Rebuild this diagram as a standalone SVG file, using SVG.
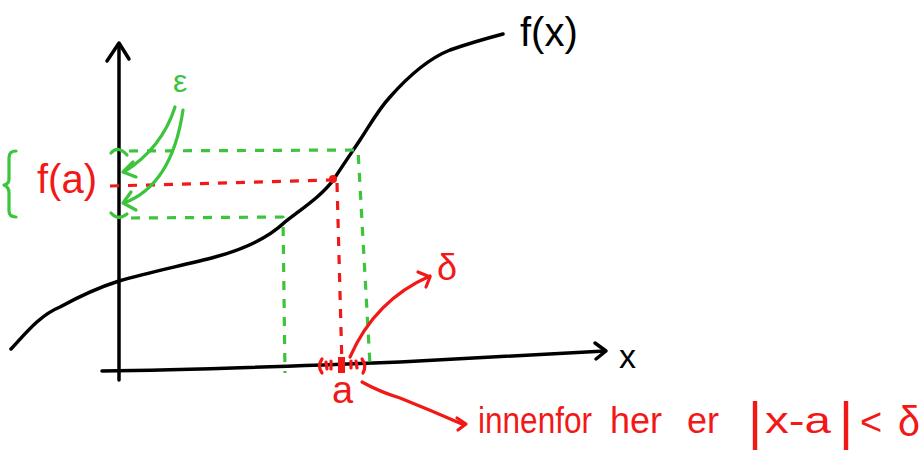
<svg xmlns="http://www.w3.org/2000/svg" width="924" height="450" viewBox="0 0 924 450">
<style>
.ink{fill:none;stroke:#000;stroke-width:3.5;stroke-linecap:round;stroke-linejoin:round}
.red{fill:none;stroke:#f21818;stroke-width:3.2;stroke-linecap:round;stroke-linejoin:round}
.grn{fill:none;stroke:#3cc43c;stroke-width:3.2;stroke-linecap:round;stroke-linejoin:round}
.dash{stroke-dasharray:9 9;stroke-linecap:butt}
.t{font-family:"Liberation Sans",Arial,sans-serif}
.tb{fill:#000}.tr{fill:#f21818}.tg{fill:#3cc43c}
</style>
<rect width="924" height="450" fill="#fff"/>
<g id="axes">
<path class="ink" d="M119,380 C120,300 118,200 119,44"/>
<path class="ink" d="M107,61 L119,43 L129,59"/>
<path class="ink" d="M102,371 C200,370 300,366 400,362 C480,358 550,354 605,351"/>
<path class="ink" d="M595,343 L606,351 L596,359"/>
<text class="t tb" x="619" y="368" font-size="34">x</text>
</g>
<g id="curve">
<path class="ink" d="M11,349 C25,334 40,315 60,307 C80,296 100,287 119,281 C150,272 185,265 215,257 C245,249 268,238 285,222 C300,210 322,196 334,179 C345,162 352,152 360,140 C370,125 378,110 390,97 C405,80 425,60 450,50 C470,43 488,38 503,34"/>
<text class="t tb" x="520" y="46" font-size="40">f(x)</text>
</g>
<g id="connectors">
<path class="grn dash" d="M129,151 L358,150 L370,365"/>
<path class="grn dash" d="M131,218 L283,217 L285,373"/>
<path class="red dash" d="M110,186 L333,180"/>
<path class="red dash" d="M337,183 L342,366"/>
<path class="grn" d="M175,107 Q162,148 124,172"/>
<path class="grn" d="M133,162 L123,172 L136,177"/>
<path class="grn" d="M183,110 Q172,185 124,203"/>
<path class="grn" d="M131,192 L123,203 L136,210"/>
<path class="red" d="M350,357 Q375,300 430,276"/>
<path class="red" d="M418,272 L430,277 L426,287"/>
<path class="red" d="M362,382 Q380,392 400,398 Q430,410 462,424"/>
<path class="red" d="M457,418 L466,424 L458,430"/>
</g>
<g id="epsilon-band">
<path class="grn" d="M111,153 Q118,145 127,155"/>
<path class="grn" d="M111,213 Q118,221 127,214"/>
<path class="grn" d="M16,151 Q9,151 9,158 L9,179 Q9,184 4,185 Q9,187 9,193 L9,211 Q9,217 16,217"/>
<text class="t tg" x="173" y="92" font-size="32">ε</text>
</g>
<g id="fa">
<circle cx="333" cy="179" r="4" fill="#f21818"/>
<text class="t tr" x="37" y="193" font-size="40">f(a)</text>
</g>
<g id="a-interval">
<path class="red" d="M322,359 Q317,366 322,373"/>
<path class="red" d="M326,362 L327,369 M331,361 L331,369 M351,361 L351,368 M356,361 L357,368"/>
<rect x="338" y="357" width="7" height="16" fill="#f21818"/>
<path class="red" d="M362,359 Q367,366 363,373"/>
<text class="t tr" x="332" y="403" font-size="38">a</text>
<text class="t tr" x="437" y="280" font-size="36">δ</text>
</g>
<g id="note">
<text class="t tr" x="478" y="433" font-size="36" textLength="114" lengthAdjust="spacingAndGlyphs">innenfor</text>
<text class="t tr" x="610" y="433" font-size="36" textLength="52" lengthAdjust="spacingAndGlyphs">her</text>
<text class="t tr" x="687" y="433" font-size="36" textLength="32" lengthAdjust="spacingAndGlyphs">er</text>
<text class="t tr" x="748" y="440" font-size="54">|</text>
<text class="t tr" x="765" y="433" font-size="36" textLength="66" lengthAdjust="spacingAndGlyphs">x-a</text>
<text class="t tr" x="839" y="440" font-size="54">|</text>
<text class="t tr" x="860" y="435" font-size="38">&lt;</text>
<text class="t tr" x="898" y="436" font-size="42" textLength="22" lengthAdjust="spacingAndGlyphs">δ</text>
</g>
</svg>
